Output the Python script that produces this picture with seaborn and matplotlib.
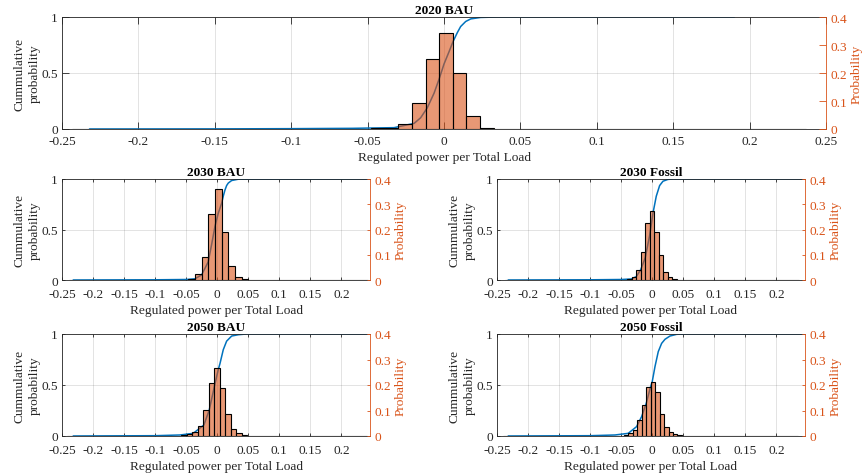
import numpy as np
import matplotlib
matplotlib.use("Agg")
import matplotlib.pyplot as plt
import seaborn as sns

# ---------------------------------------------------------------- data
titles = ["2020 BAU", "2030 BAU", "2030 Fossil", "2050 BAU", "2050 Fossil"]

# histograms: left edge of first populated bin, bin width, bin probabilities
hist_2020_start = -0.0565
hist_2020_width = 0.0089
hist_2020_prob = [0.001, 0.002, 0.003, 0.018, 0.092, 0.251, 0.342, 0.201, 0.048, 0.005, 0.001]

hist_2030_bau_start = -0.0465
hist_2030_bau_width = 0.0107
hist_2030_bau_prob = [0.005, 0.022, 0.091, 0.260, 0.360, 0.191, 0.055, 0.013, 0.003]

hist_2030_fos_start = -0.0407
hist_2030_fos_width = 0.0073
hist_2030_fos_prob = [0.005, 0.013, 0.040, 0.112, 0.224, 0.273, 0.191, 0.099, 0.033, 0.013, 0.004]

hist_2050_bau_start = -0.0576
hist_2050_bau_width = 0.0088
hist_2050_bau_prob = [0.003, 0.008, 0.017, 0.039, 0.102, 0.207, 0.265, 0.187, 0.086, 0.029, 0.010, 0.004]

hist_2050_fos_start = -0.0458
hist_2050_fos_width = 0.0072
hist_2050_fos_prob = [0.003, 0.013, 0.024, 0.063, 0.122, 0.193, 0.213, 0.174, 0.086, 0.037, 0.017, 0.008, 0.003]

# empirical cumulative distributions
cdf_2020_x = [-0.232, -0.15, -0.1, -0.06, -0.0327, -0.0196, -0.0153, -0.0109, -0.0065, -0.0031,
              0.0, 0.0033, 0.0059, 0.0087, 0.0109, 0.0142, 0.0175, 0.024, 0.035, 0.19]
cdf_2020_F = [0.0, 0.001, 0.003, 0.006, 0.012, 0.05, 0.10, 0.19, 0.32, 0.45,
              0.58, 0.69, 0.78, 0.86, 0.915, 0.96, 0.983, 0.996, 1.0, 1.0]

cdf_2030_bau_x = [-0.232, -0.1, -0.05, -0.036, -0.0252, -0.0145, -0.0091, -0.0037, 0.0016, 0.0071,
                  0.0097, 0.0124, 0.0151, 0.0178, 0.0232, 0.034, 0.24]
cdf_2030_bau_F = [0.0, 0.002, 0.005, 0.012, 0.05, 0.18, 0.35, 0.53, 0.66, 0.76,
                  0.83, 0.89, 0.935, 0.96, 0.985, 0.998, 1.0]

cdf_2030_fos_x = [-0.232, -0.1, -0.05, -0.0339, -0.0258, -0.0187, -0.0113, -0.0042, 0.0011, 0.0065,
                  0.0119, 0.0173, 0.0253, 0.033, 0.24]
cdf_2030_fos_F = [0.0, 0.002, 0.005, 0.01, 0.033, 0.10, 0.22, 0.44, 0.66, 0.83,
                  0.935, 0.978, 0.996, 1.0, 1.0]

cdf_2050_bau_x = [-0.232, -0.1, -0.06, -0.0387, -0.0215, -0.0129, -0.0048, 0.0016, 0.0044, 0.0097,
                  0.0151, 0.0232, 0.034, 0.047, 0.24]
cdf_2050_bau_F = [0.0, 0.003, 0.01, 0.026, 0.108, 0.255, 0.48, 0.65, 0.71, 0.846,
                  0.93, 0.98, 0.993, 1.0, 1.0]

cdf_2050_fos_x = [-0.232, -0.1, -0.06, -0.0387, -0.0252, -0.0171, -0.0097, -0.0026, 0.0, 0.0044,
                  0.0097, 0.0151, 0.0205, 0.0285, 0.0394, 0.053, 0.24]
cdf_2050_fos_F = [0.0, 0.003, 0.01, 0.026, 0.092, 0.19, 0.32, 0.484, 0.533, 0.68,
                  0.827, 0.908, 0.948, 0.98, 0.997, 1.0, 1.0]

# overall range of the samples (empty bins are still outlined)
data_lo, data_hi = -0.235, 0.235

xticks_wide = [-0.25, -0.2, -0.15, -0.1, -0.05, 0, 0.05, 0.1, 0.15, 0.2, 0.25]
xticks_small = [-0.25, -0.2, -0.15, -0.1, -0.05, 0, 0.05, 0.1, 0.15, 0.2]
cdf_ticks = [0, 0.5, 1]
prob_ticks = [0, 0.1, 0.2, 0.3, 0.4]

# ---------------------------------------------------------------- style
sns.set_style("white")
plt.rcParams["font.family"] = ["Liberation Serif", "DejaVu Serif"]
FS = 9.6
plt.rcParams["font.size"] = FS

BAR = (0.850, 0.325, 0.098)
LINE = (0.0, 0.447, 0.741)
AXC = (0.15, 0.15, 0.15)

W, H = 866, 477
fig = plt.figure(figsize=(W / 100, H / 100), dpi=100)


def box(left, top, right, bottom):
    return [left / W, 1 - bottom / H, (right - left) / W, (bottom - top) / H]


def fmt(v):
    return f"{v:g}"


def panel(rect, title, start, width, prob, cx, cf, xmax, xticks, ticklen, xpad):
    ax = fig.add_axes(rect)
    ax.set_axisbelow(True)
    sns.lineplot(x=cx, y=cf, ax=ax, color=LINE, linewidth=1.1,
                 estimator=None, sort=False)
    ax.set_ylim(0, 1)

    ax2 = ax.twinx()
    n = len(prob)
    n_left = int(np.ceil((start - data_lo) / width))
    n_right = int(np.ceil((data_hi - (start + n * width)) / width))
    edges = list(start + width * np.arange(-n_left, n + n_right + 1))
    centers = list(start + width * (np.arange(n) + 0.5))
    sns.histplot(x=centers, weights=prob, bins=edges, ax=ax2, stat="count",
                 color=BAR, alpha=0.6, edgecolor="black", linewidth=0.8)
    ax2.set_ylim(0, 0.4)
    ax.set_xlim(-0.25, xmax)

    ax.grid(True, color=AXC, alpha=0.15, linewidth=0.6)
    ax.set_xticks(xticks)
    ax.set_xticklabels([fmt(v) for v in xticks])
    ax.set_yticks(cdf_ticks)
    ax.set_yticklabels([fmt(v) for v in cdf_ticks])
    ax2.set_yticks(prob_ticks)
    ax2.set_yticklabels([fmt(v) for v in prob_ticks])

    ax.tick_params(axis="x", direction="in", top=True, bottom=True, length=ticklen,
                   width=0.6, colors=AXC, labelsize=FS, pad=xpad)
    ax.tick_params(axis="y", direction="in", left=True, right=False, length=ticklen,
                   width=0.6, colors=AXC, labelsize=FS, pad=3)
    ax2.tick_params(axis="y", direction="in", right=True, length=ticklen,
                    width=0.6, colors=BAR, labelsize=FS, pad=3)

    for s in ("left", "top", "bottom"):
        ax.spines[s].set_color(AXC)
        ax.spines[s].set_linewidth(0.6)
        ax2.spines[s].set_visible(False)
    ax.spines["right"].set_visible(False)
    ax2.spines["right"].set_color(BAR)
    ax2.spines["right"].set_linewidth(0.6)

    ax.set_xlabel("Regulated power per Total Load", color=AXC, fontsize=FS, labelpad=2.5)
    ax.set_ylabel("Cummulative\nprobability", color=AXC, fontsize=FS, labelpad=0.5,
                  linespacing=1.3)
    ax2.set_ylabel("Probability", color=BAR, fontsize=FS, labelpad=3)
    ax2.set_xlabel("")
    ax.set_title(title, fontsize=FS, fontweight="bold", color="black", pad=3)


panel(box(62, 18, 826, 130), titles[0], hist_2020_start, hist_2020_width, hist_2020_prob,
      cdf_2020_x, cdf_2020_F, 0.25, xticks_wide, 5, 4.5)
panel(box(62, 180, 370, 281), titles[1], hist_2030_bau_start, hist_2030_bau_width, hist_2030_bau_prob,
      cdf_2030_bau_x, cdf_2030_bau_F, 0.246, xticks_small, 2.5, 6)
panel(box(497, 180, 805, 281), titles[2], hist_2030_fos_start, hist_2030_fos_width, hist_2030_fos_prob,
      cdf_2030_fos_x, cdf_2030_fos_F, 0.246, xticks_small, 2.5, 6)
panel(box(62, 335, 370, 437), titles[3], hist_2050_bau_start, hist_2050_bau_width, hist_2050_bau_prob,
      cdf_2050_bau_x, cdf_2050_bau_F, 0.246, xticks_small, 2.5, 6)
panel(box(497, 335, 805, 437), titles[4], hist_2050_fos_start, hist_2050_fos_width, hist_2050_fos_prob,
      cdf_2050_fos_x, cdf_2050_fos_F, 0.246, xticks_small, 2.5, 6)

fig.savefig("out.png", dpi=100, facecolor="white")
